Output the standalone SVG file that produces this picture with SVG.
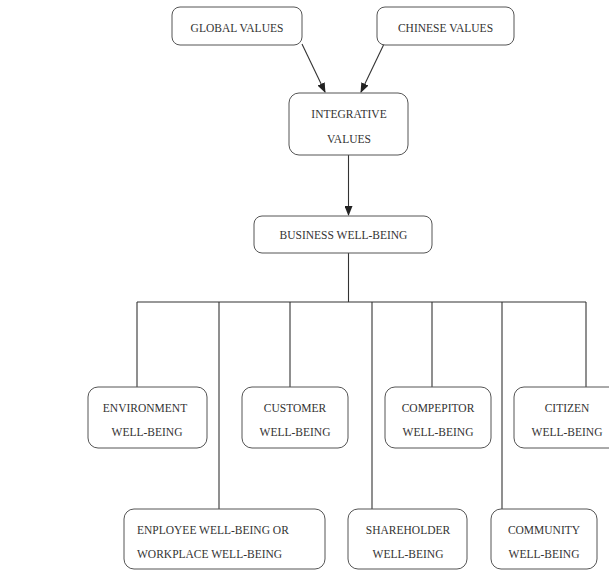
<svg xmlns="http://www.w3.org/2000/svg" width="609" height="570" viewBox="0 0 609 570">
<style>
.box{fill:#fff;stroke:#555;stroke-width:1}
.t{font-family:"Liberation Serif","Times New Roman",serif;font-size:11.5px;fill:#333;text-anchor:middle}
.l{text-anchor:start}
.c{fill:none;stroke:#333;stroke-width:1.1}
</style>
<defs>
<marker id="ah" markerWidth="10" markerHeight="8" refX="9" refY="4" orient="auto" markerUnits="userSpaceOnUse">
<path d="M0,0 L10,4 L0,8 z" fill="#222"/>
</marker>
</defs>
<rect width="609" height="570" fill="#fff"/>
<g id="connectors">
<line class="c" x1="302" y1="44" x2="325" y2="92" marker-end="url(#ah)"/>
<line class="c" x1="384" y1="44" x2="361" y2="92" marker-end="url(#ah)"/>
<line class="c" x1="348.5" y1="155" x2="348.5" y2="215" marker-end="url(#ah)"/>
<line class="c" x1="348.5" y1="253" x2="348.5" y2="302"/>
<line class="c" x1="137" y1="302" x2="586" y2="302"/>
<line class="c" x1="137" y1="302" x2="137" y2="387"/>
<line class="c" x1="219" y1="302" x2="219" y2="509"/>
<line class="c" x1="290" y1="302" x2="290" y2="387"/>
<line class="c" x1="372" y1="302" x2="372" y2="509"/>
<line class="c" x1="432" y1="302" x2="432" y2="387"/>
<line class="c" x1="502" y1="302" x2="502" y2="509"/>
<line class="c" x1="586" y1="302" x2="586" y2="387"/>
</g>
<g id="global">
<rect class="box" x="172" y="7" width="130" height="38" rx="8"/>
<text class="t" x="237" y="32">GLOBAL VALUES</text>
</g>
<g id="chinese">
<rect class="box" x="377" y="7" width="137" height="38" rx="8"/>
<text class="t" x="445.5" y="32">CHINESE VALUES</text>
</g>
<g id="integrative">
<rect class="box" x="289" y="93" width="119" height="62" rx="10"/>
<text class="t" x="349" y="118">INTEGRATIVE</text>
<text class="t" x="349" y="143">VALUES</text>
</g>
<g id="business">
<rect class="box" x="254" y="216" width="178" height="37" rx="8"/>
<text class="t" x="343.5" y="239">BUSINESS WELL-BEING</text>
</g>
<g id="environment">
<rect class="box" x="88" y="387" width="119" height="61" rx="10"/>
<text class="t" x="145" y="412">ENVIRONMENT</text>
<text class="t" x="147" y="436">WELL-BEING</text>
</g>
<g id="customer">
<rect class="box" x="242" y="387" width="106" height="61" rx="10"/>
<text class="t" x="295" y="412">CUSTOMER</text>
<text class="t" x="295" y="436">WELL-BEING</text>
</g>
<g id="compepitor">
<rect class="box" x="385" y="387" width="106" height="61" rx="10"/>
<text class="t" x="438" y="412">COMPEPITOR</text>
<text class="t" x="438" y="436">WELL-BEING</text>
</g>
<g id="citizen">
<rect class="box" x="514" y="387" width="106" height="61" rx="10"/>
<text class="t" x="567" y="412">CITIZEN</text>
<text class="t" x="567" y="436">WELL-BEING</text>
</g>
<g id="employee">
<rect class="box" x="124" y="509" width="201" height="60" rx="10"/>
<text class="t l" x="137" y="534">ENPLOYEE WELL-BEING OR</text>
<text class="t l" x="137" y="558">WORKPLACE WELL-BEING</text>
</g>
<g id="shareholder">
<rect class="box" x="348" y="509" width="119" height="60" rx="10"/>
<text class="t" x="408" y="534">SHAREHOLDER</text>
<text class="t" x="408" y="558">WELL-BEING</text>
</g>
<g id="community">
<rect class="box" x="491" y="509" width="106" height="60" rx="10"/>
<text class="t" x="544" y="534">COMMUNITY</text>
<text class="t" x="544" y="558">WELL-BEING</text>
</g>
</svg>
